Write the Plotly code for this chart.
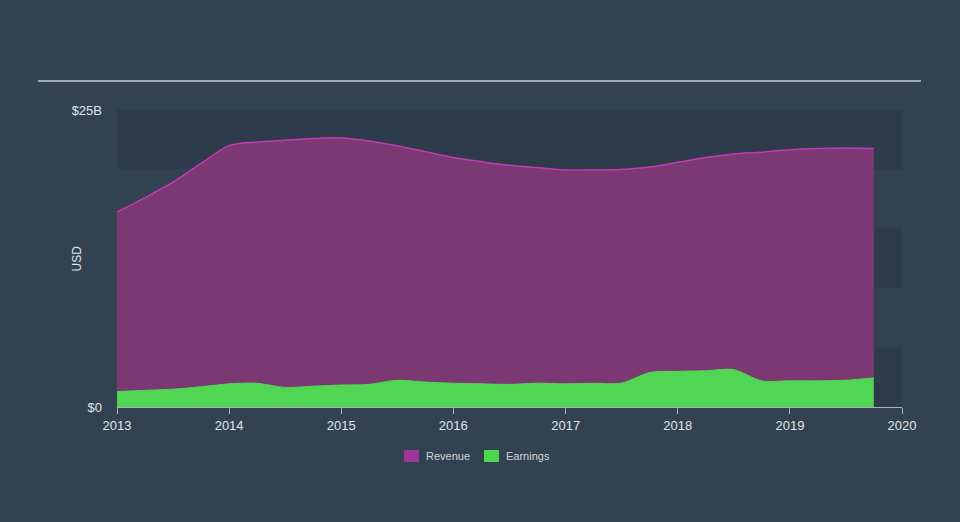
import plotly.graph_objects as go

dates = ["2013-01-01","2013-04-01","2013-07-01","2013-10-01",
         "2014-01-01","2014-04-01","2014-07-01","2014-10-01",
         "2015-01-01","2015-04-01","2015-07-01","2015-10-01",
         "2016-01-01","2016-04-01","2016-07-01","2016-10-01",
         "2017-01-01","2017-04-01","2017-07-01","2017-10-01",
         "2018-01-01","2018-04-01","2018-07-01","2018-10-01",
         "2019-01-01","2019-04-01","2019-07-01","2019-10-01"]
revenue = [16.4, 17.6, 18.9, 20.5,
           22.0, 22.3, 22.45, 22.6,
           22.65, 22.4, 22.0, 21.5,
           21.0, 20.65, 20.35, 20.15,
           19.95, 19.95, 20.0, 20.2,
           20.6, 21.0, 21.3, 21.45,
           21.65, 21.75, 21.8, 21.75]
earnings = [1.3, 1.4, 1.5, 1.7,
            1.95, 2.0, 1.65, 1.75,
            1.85, 1.9, 2.25, 2.1,
            2.0, 1.95, 1.9, 2.0,
            1.95, 2.0, 2.0, 2.9,
            3.0, 3.05, 3.15, 2.2,
            2.2, 2.2, 2.25, 2.45]
year_ticks = ["2013-01-01","2014-01-01","2015-01-01","2016-01-01",
              "2017-01-01","2018-01-01","2019-01-01","2020-01-01"]
year_labels = ["2013","2014","2015","2016","2017","2018","2019","2020"]
series_names = ["Revenue", "Earnings"]

BG = "#334251"
BAND = "#2e3b4a"
FONT = "Liberation Sans, Arial, sans-serif"
REV_LINE = "#c03cb2"
REV_FILL = "#7b3873"
REV_SWATCH = "#a0369a"
EARN = "#51d653"

L, R, T, B = 117, 58, 110, 115
PW, PH = 960 - L - R, 522 - T - B


def px_x(px):
    return (px - L) / PW


def px_y(py):
    return (522 - B - py) / PH


fig = go.Figure()
fig.add_trace(go.Scatter(
    x=dates, y=revenue, name=series_names[0], mode="lines", showlegend=False,
    line=dict(color=REV_LINE, width=1.5, shape="spline", smoothing=0.8),
    fill="tozeroy", fillcolor=REV_FILL))
fig.add_trace(go.Scatter(
    x=dates, y=earnings, name=series_names[1], mode="lines", showlegend=False,
    line=dict(color=EARN, width=1, shape="spline", smoothing=0.8),
    fill="tozeroy", fillcolor=EARN))

shapes = []
for lo, hi in [(0, 5), (10, 15), (20, 25)]:
    shapes.append(dict(type="rect", xref="paper", yref="y", x0=0, x1=1,
                       y0=lo, y1=hi, fillcolor=BAND, line=dict(width=0),
                       layer="below"))
shapes.append(dict(type="line", xref="paper", yref="paper",
                   x0=px_x(38), x1=px_x(921), y0=px_y(81), y1=px_y(81),
                   line=dict(color="#c8ccd0", width=1.5)))

annotations = [dict(text="USD", xref="paper", yref="paper",
                    x=px_x(76), y=0.5, textangle=-90,
                    showarrow=False, xanchor="center", yanchor="middle",
                    font=dict(size=12, color="#e0e4e8"))]

# custom legend
for name, color, bx in [(series_names[0], REV_SWATCH, 404),
                        (series_names[1], EARN, 484)]:
    shapes.append(dict(type="rect", xref="paper", yref="paper",
                       x0=px_x(bx), x1=px_x(bx + 15),
                       y0=px_y(462), y1=px_y(450),
                       fillcolor=color, line=dict(width=0)))
    annotations.append(dict(text=name, xref="paper", yref="paper",
                            x=px_x(bx + 20), y=px_y(456),
                            xanchor="left", yanchor="middle", showarrow=False,
                            font=dict(size=11, color="#d0d4d8")))

fig.update_layout(
    width=960, height=522,
    margin=dict(l=L, r=R, t=T, b=B),
    paper_bgcolor=BG, plot_bgcolor=BG,
    font=dict(family=FONT, color="#e0e4e8", size=13),
    shapes=shapes,
    annotations=annotations,
    showlegend=False,
    xaxis=dict(type="date", range=["2013-01-01", "2020-01-01"],
               tickvals=year_ticks, ticktext=year_labels,
               showgrid=False, zeroline=False,
               showline=True, linecolor="#a9b0b8", linewidth=1,
               ticks="outside", ticklen=6, tickcolor="#a9b0b8",
               tickfont=dict(size=13, color="#e0e4e8")),
    yaxis=dict(range=[0, 25], tickvals=[0, 25], ticktext=["$0", "$25B"],
               showgrid=False, zeroline=False, showline=False,
               ticks="", ticklabelstandoff=14,
               tickfont=dict(size=13, color="#e0e4e8")),
)

fig.write_html("out.html")
